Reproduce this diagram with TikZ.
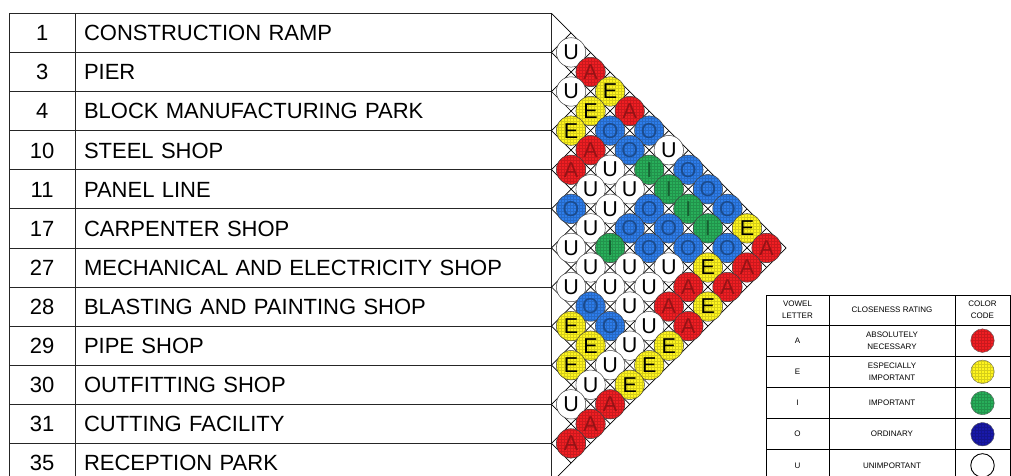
\documentclass[tikz,border=0pt]{standalone}
\usepackage{fontspec}
\setmainfont{Liberation Sans}
\usepackage{xcolor}
\usetikzlibrary{positioning,patterns}

\definecolor{relRed}{RGB}{240,30,35}
\definecolor{relYellow}{RGB}{255,245,30}
\definecolor{relGreen}{RGB}{40,175,90}
\definecolor{relBlue}{RGB}{45,125,235}
\definecolor{relNavy}{RGB}{25,25,170}

\begin{document}
\begin{tikzpicture}[x=1pt,y=-1pt,
    numbox/.style={rectangle,draw=black!85,line width=0.8pt,outer sep=0pt,inner sep=0pt,minimum width=65.7pt,minimum height=39.1pt,text height=15.8pt,text depth=0pt,font=\fontsize{22}{22}\selectfont},
    namebox/.style={rectangle,draw=black!85,line width=0.8pt,outer sep=0pt,inner xsep=9pt,inner ysep=0pt,text width=458.5pt,minimum height=39.1pt,text height=15.8pt,text depth=0pt,align=left,font=\fontsize{22}{22}\selectfont},
    gridline/.style={draw=black,line width=0.7pt},
    hatch/.style={preaction={fill=#1},pattern=grid,pattern color=#1!84!black},
    cell/.style={circle,draw=black!75,line width=0.5pt,minimum size=29.4pt,inner sep=0pt,font=\fontsize{21.5}{21.5}\selectfont},
    cellA/.style={cell,hatch=relRed,text=relRed!62!black},
    cellE/.style={cell,hatch=relYellow,text=black},
    cellI/.style={cell,hatch=relGreen,text=relGreen!55!black},
    cellO/.style={cell,hatch=relBlue,text=relBlue!60!black},
    cellU/.style={cell,fill=white,text=black},
    legcell/.style={rectangle,draw=black,line width=0.8pt,outer sep=0pt,inner sep=0pt,minimum height=31.2pt,align=center,font=\fontsize{8}{12}\selectfont},
    leghead/.style={legcell,minimum height=30pt},
    legdot/.style={circle,draw=black!60,line width=0.4pt,minimum size=23.5pt,inner sep=0pt}
    ]

    \useasboundingbox (0,0) rectangle (1011,475);
    \clip (0,0) rectangle (1011,475);

    \node[numbox] (n1) at (42.15,32.85) {1};
    \node[namebox,right=0pt of n1] (r1) {CONSTRUCTION RAMP};
    \node[numbox,below=0pt of n1] (n3) {3};
    \node[namebox,right=0pt of n3] (r3) {PIER};
    \node[numbox,below=0pt of n3] (n4) {4};
    \node[namebox,right=0pt of n4] (r4) {BLOCK MANUFACTURING PARK};
    \node[numbox,below=0pt of n4] (n10) {10};
    \node[namebox,right=0pt of n10] (r10) {STEEL SHOP};
    \node[numbox,below=0pt of n10] (n11) {11};
    \node[namebox,right=0pt of n11] (r11) {PANEL LINE};
    \node[numbox,below=0pt of n11] (n17) {17};
    \node[namebox,right=0pt of n17] (r17) {CARPENTER SHOP};
    \node[numbox,below=0pt of n17] (n27) {27};
    \node[namebox,right=0pt of n27] (r27) {MECHANICAL AND ELECTRICITY SHOP};
    \node[numbox,below=0pt of n27] (n28) {28};
    \node[namebox,right=0pt of n28] (r28) {BLASTING AND PAINTING SHOP};
    \node[numbox,below=0pt of n28] (n29) {29};
    \node[namebox,right=0pt of n29] (r29) {PIPE SHOP};
    \node[numbox,below=0pt of n29] (n30) {30};
    \node[namebox,right=0pt of n30] (r30) {OUTFITTING SHOP};
    \node[numbox,below=0pt of n30] (n31) {31};
    \node[namebox,right=0pt of n31] (r31) {CUTTING FACILITY};
    \node[numbox,below=0pt of n31] (n35) {35};
    \node[namebox,right=0pt of n35] (r35) {RECEPTION PARK};

    \foreach \k in {0,...,12}{
      \pgfmathsetmacro\yk{13.3+39.1*\k}
      \draw[gridline] (551.5,\yk) -- ({551.5+(482.5-\yk)/2},{(\yk+482.5)/2});
      \draw[gridline] (551.5,\yk) -- ({551.5+(\yk-13.3)/2},{(\yk+13.3)/2});
    }

    \foreach \i/\row in {0/{U,A,E,A,O,U,O,O,O,E,A},
                         1/{U,E,O,O,I,I,I,I,O,A},
                         2/{E,A,U,U,O,O,O,E,A},
                         3/{A,U,U,O,O,U,A,E},
                         4/{O,U,I,U,U,A,A},
                         5/{U,U,U,U,U,E},
                         6/{U,O,O,U,E},
                         7/{E,E,U,E},
                         8/{E,U,A},
                         9/{U,A},
                         10/{A}}{
      \foreach \v [count=\d] in \row
        \node[cell\v] (c\i-\d) at ({551.5+\d*19.55},{13.3+(2*\i+\d+1)*19.55}) {\v};
    }

    \node[leghead,minimum width=63pt] (hv) at (797.5,310) {VOWEL\\LETTER};
    \node[leghead,minimum width=126pt,right=0pt of hv] (hc) {CLOSENESS RATING};
    \node[leghead,minimum width=55pt,right=0pt of hc] (hk) {COLOR\\CODE};

    \node[legcell,minimum width=63pt,below=0pt of hv] (vA) {A};
    \node[legcell,minimum width=126pt,right=0pt of vA] (cA) {ABSOLUTELY\\NECESSARY};
    \node[legcell,minimum width=55pt,right=0pt of cA] (kA) {};
    \node[legcell,minimum width=63pt,below=0pt of vA] (vE) {E};
    \node[legcell,minimum width=126pt,right=0pt of vE] (cE) {ESPECIALLY\\IMPORTANT};
    \node[legcell,minimum width=55pt,right=0pt of cE] (kE) {};
    \node[legcell,minimum width=63pt,below=0pt of vE] (vI) {I};
    \node[legcell,minimum width=126pt,right=0pt of vI] (cI) {IMPORTANT};
    \node[legcell,minimum width=55pt,right=0pt of cI] (kI) {};
    \node[legcell,minimum width=63pt,below=0pt of vI] (vO) {O};
    \node[legcell,minimum width=126pt,right=0pt of vO] (cO) {ORDINARY};
    \node[legcell,minimum width=55pt,right=0pt of cO] (kO) {};
    \node[legcell,minimum width=63pt,below=0pt of vO] (vU) {U};
    \node[legcell,minimum width=126pt,right=0pt of vU] (cU) {UNIMPORTANT};
    \node[legcell,minimum width=55pt,right=0pt of cU] (kU) {};

    \node[legdot,hatch=relRed] (dA) at (kA) {};
    \node[legdot,hatch=relYellow] (dE) at (kE) {};
    \node[legdot,hatch=relGreen] (dI) at (kI) {};
    \node[legdot,hatch=relNavy] (dO) at (kO) {};
    \node[legdot,draw=black,line width=0.9pt,fill=white] (dU) at (kU) {};

  \end{tikzpicture}
\end{document}
